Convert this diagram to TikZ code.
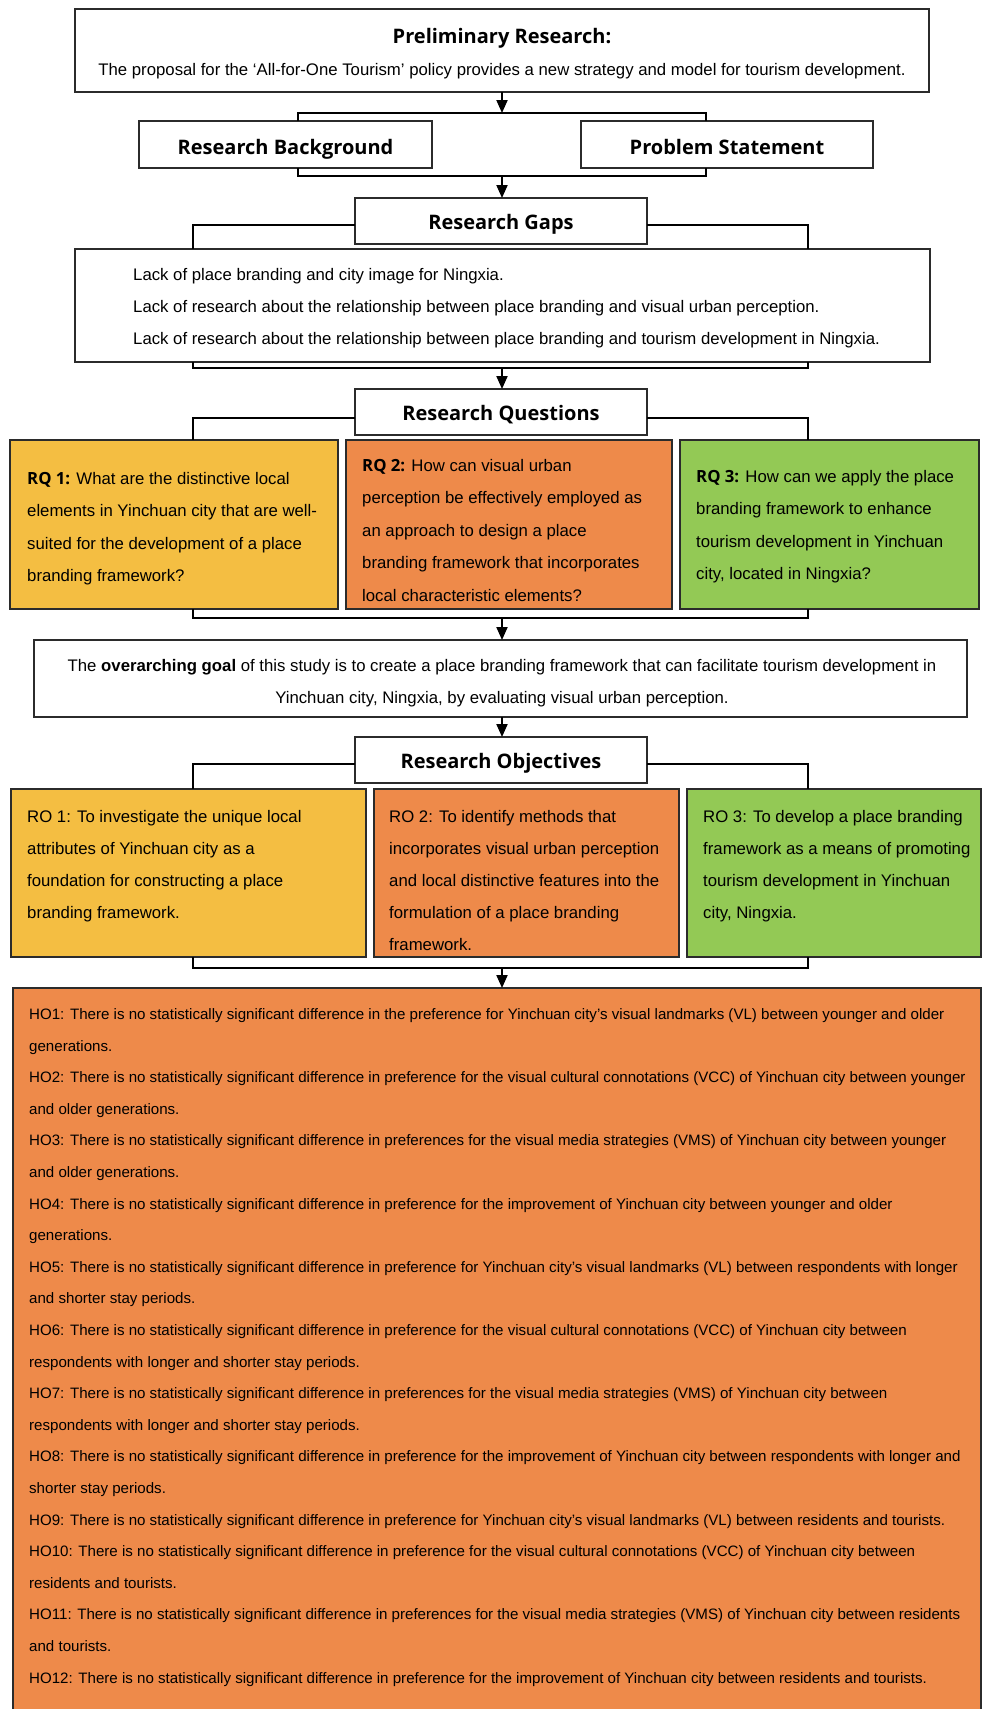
\documentclass[tikz,border=0pt]{standalone}
\usepackage{fontspec}
\setmainfont{Liberation Sans}
\newfontfamily\headfont{Open Sans}
\usetikzlibrary{arrows.meta}
\definecolor{yel}{HTML}{F4BE42}
\definecolor{org}{HTML}{EE8A4A}
\definecolor{grn}{HTML}{93C955}
\definecolor{bord}{HTML}{2B2B2B}
\begin{document}
\begin{tikzpicture}[x=1pt,y=-1pt,
  box/.style={draw=bord, line width=1.6pt, inner sep=0pt, outer sep=0pt, anchor=north west},
  bracket/.style={draw=black, line width=2.6pt},
  arr/.style={draw=black, line width=2pt, -{Triangle[length=13pt,width=11pt]}},
  head/.style={font=\headfont\bfseries\fontsize{20}{24}\selectfont, anchor=base, inner sep=0pt},
  body/.style={font=\fontsize{16.75}{32.5}\selectfont, align=left, anchor=base west, inner sep=0pt},
  hbody/.style={font=\fontsize{15.1}{31.6}\selectfont, align=left, anchor=base west, inner sep=0pt},
]
\useasboundingbox (0,0) rectangle (984,1709);
\fill[white] (0,0) rectangle (984,1709);

% boxes
\node[box, minimum width=854pt, minimum height=83pt] (top) at (75,9) {};
\node[box, minimum width=293pt, minimum height=47pt] (rb) at (139,121) {};
\node[box, minimum width=292pt, minimum height=47pt] (ps) at (581,121) {};
\node[box, minimum width=292pt, minimum height=46pt] (rg) at (355,198) {};
\node[box, minimum width=855pt, minimum height=113pt] (gaps) at (75,249) {};
\node[box, minimum width=292pt, minimum height=46pt] (rqh) at (355,389) {};
\node[box, fill=yel, minimum width=328pt, minimum height=169pt] (rq1) at (10,440) {};
\node[box, fill=org, minimum width=326pt, minimum height=169pt] (rq2) at (346,440) {};
\node[box, fill=grn, minimum width=299pt, minimum height=169pt] (rq3) at (680,440) {};
\node[box, minimum width=933pt, minimum height=77pt] (goal) at (34,640) {};
\node[box, minimum width=292pt, minimum height=46pt] (roh) at (355,737) {};
\node[box, fill=yel, minimum width=355pt, minimum height=168pt] (ro1) at (11,789) {};
\node[box, fill=org, minimum width=305pt, minimum height=168pt] (ro2) at (374,789) {};
\node[box, fill=grn, minimum width=294pt, minimum height=168pt] (ro3) at (687,789) {};
\node[box, fill=org, minimum width=968pt, minimum height=726pt] (ho) at (13,988) {};

% connector coordinates
\coordinate (b1l) at (298,113); \coordinate (b1r) at (706,113); \coordinate (b1m) at (502,113);
\coordinate (b2l) at (298,176); \coordinate (b2r) at (706,176); \coordinate (b2m) at (502,176);
\coordinate (g1l) at (193,225); \coordinate (g1r) at (808,225);
\coordinate (g2l) at (193,368); \coordinate (g2r) at (808,368); \coordinate (g2m) at (502,368);
\coordinate (q1l) at (193,418); \coordinate (q1r) at (808,418);
\coordinate (q2l) at (193,618); \coordinate (q2r) at (808,618); \coordinate (q2m) at (502,618);
\coordinate (o1l) at (193,764); \coordinate (o1r) at (808,764);
\coordinate (o2l) at (193,968); \coordinate (o2r) at (808,968); \coordinate (o2m) at (502,968);

% brackets
\draw[bracket] (rb.north -| b1l) -- (b1l) -- (b1r) -- (ps.north -| b1r);
\draw[bracket] (rb.south -| b2l) -- (b2l) -- (b2r) -- (ps.south -| b2r);
\draw[bracket] (rg.west |- g1l) -- (g1l) -- (gaps.north -| g1l);
\draw[bracket] (rg.east |- g1r) -- (g1r) -- (gaps.north -| g1r);
\draw[bracket] (gaps.south -| g2l) -- (g2l) -- (g2r) -- (gaps.south -| g2r);
\draw[bracket] (rqh.west |- q1l) -- (q1l) -- (rq1.north -| q1l);
\draw[bracket] (rqh.east |- q1r) -- (q1r) -- (rq3.north -| q1r);
\draw[bracket] (rq1.south -| q2l) -- (q2l) -- (q2r) -- (rq3.south -| q2r);
\draw[bracket] (roh.west |- o1l) -- (o1l) -- (ro1.north -| o1l);
\draw[bracket] (roh.east |- o1r) -- (o1r) -- (ro3.north -| o1r);
\draw[bracket] (ro1.south -| o2l) -- (o2l) -- (o2r) -- (ro3.south -| o2r);

% arrows
\draw[arr] (top.south -| b1m) -- (b1m);
\draw[arr] (b2m) -- (rg.north -| b2m);
\draw[arr] (g2m) -- (rqh.north -| g2m);
\draw[arr] (q2m) -- (goal.north -| q2m);
\draw[arr] (goal.south -| q2m) -- (roh.north -| q2m);
\draw[arr] (o2m) -- (ho.north -| o2m);

% texts (multi-line nodes are anchored at the baseline of their last line)
\node[head] (t-top) at (502,43) {Preliminary Research:};
\node[font=\fontsize{16.75}{20}\selectfont, anchor=base, inner sep=0pt] (t-sub) at (502,75)
  {The proposal for the ‘All-for-One Tourism’ policy provides a new strategy and model for tourism development.};
\node[head] (t-rb) at (285.5,154) {Research Background};
\node[head] (t-ps) at (727,154) {Problem Statement};
\node[head] (t-rg) at (501,229) {Research Gaps};
\node[body, font=\fontsize{16.75}{32}\selectfont] (t-gaps) at (133,344) {Lack of place branding and city image for Ningxia.\\
Lack of research about the relationship between place branding and visual urban perception.\\
Lack of research about the relationship between place branding and tourism development in Ningxia.};
\node[head] (t-rqh) at (501,420) {Research Questions};
\node[body] (t-rq1) at (27,581.5) {{\headfont\bfseries RQ 1:} What are the distinctive local\\
elements in Yinchuan city that are well-\\
suited for the development of a place\\
branding framework?};
\node[body] (t-rq2) at (362,601) {{\headfont\bfseries RQ 2:} How can visual urban\\
perception be effectively employed as\\
an approach to design a place\\
branding framework that incorporates\\
local characteristic elements?};
\node[body] (t-rq3) at (696,579.5) {{\headfont\bfseries RQ 3:} How can we apply the place\\
branding framework to enhance\\
tourism development in Yinchuan\\
city, located in Ningxia?};
\node[font=\fontsize{16.75}{32}\selectfont, align=center, anchor=base, inner sep=0pt] (t-goal) at (502,703)
  {The \textbf{overarching goal} of this study is to create a place branding framework that can facilitate tourism development in\\
Yinchuan city, Ningxia, by evaluating visual urban perception.};
\node[head] (t-roh) at (501,768) {Research Objectives};
\node[body, font=\fontsize{16.75}{32}\selectfont] (t-ro1) at (27,918) {RO 1: To investigate the unique local\\
attributes of Yinchuan city as a\\
foundation for constructing a place\\
branding framework.};
\node[body, font=\fontsize{16.75}{32}\selectfont] (t-ro2) at (389,950) {RO 2: To identify methods that\\
incorporates visual urban perception\\
and local distinctive features into the\\
formulation of a place branding\\
framework.};
\node[body, font=\fontsize{16.75}{32}\selectfont] (t-ro3) at (703,918) {RO 3: To develop a place branding\\
framework as a means of promoting\\
tourism development in Yinchuan\\
city, Ningxia.};
\node[hbody] (t-ho) at (29,1683.1) {HO1: There is no statistically significant difference in the preference for Yinchuan city’s visual landmarks (VL) between younger and older\\
generations.\\
HO2: There is no statistically significant difference in preference for the visual cultural connotations (VCC) of Yinchuan city between younger\\
and older generations.\\
HO3: There is no statistically significant difference in preferences for the visual media strategies (VMS) of Yinchuan city between younger\\
and older generations.\\
HO4: There is no statistically significant difference in preference for the improvement of Yinchuan city between younger and older\\
generations.\\
HO5: There is no statistically significant difference in preference for Yinchuan city’s visual landmarks (VL) between respondents with longer\\
and shorter stay periods.\\
HO6: There is no statistically significant difference in preference for the visual cultural connotations (VCC) of Yinchuan city between\\
respondents with longer and shorter stay periods.\\
HO7: There is no statistically significant difference in preferences for the visual media strategies (VMS) of Yinchuan city between\\
respondents with longer and shorter stay periods.\\
HO8: There is no statistically significant difference in preference for the improvement of Yinchuan city between respondents with longer and\\
shorter stay periods.\\
HO9: There is no statistically significant difference in preference for Yinchuan city’s visual landmarks (VL) between residents and tourists.\\
HO10: There is no statistically significant difference in preference for the visual cultural connotations (VCC) of Yinchuan city between\\
residents and tourists.\\
HO11: There is no statistically significant difference in preferences for the visual media strategies (VMS) of Yinchuan city between residents\\
and tourists.\\
HO12: There is no statistically significant difference in preference for the improvement of Yinchuan city between residents and tourists.};
\end{tikzpicture}
\end{document}
